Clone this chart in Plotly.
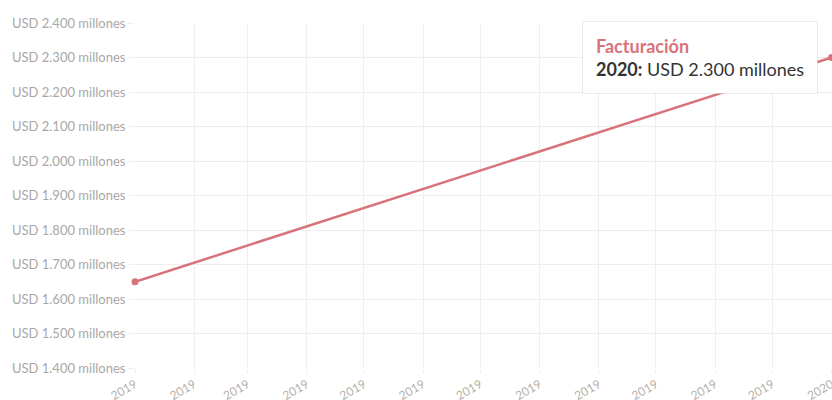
import plotly.graph_objects as go

# Data
dates = ["2019-01-01", "2020-01-01"]
values = [1650, 2300]
series_name = "Facturación"
y_ticks = [1400, 1500, 1600, 1700, 1800, 1900, 2000, 2100, 2200, 2300, 2400]
y_labels = ["USD 1.400 millones", "USD 1.500 millones", "USD 1.600 millones",
            "USD 1.700 millones", "USD 1.800 millones", "USD 1.900 millones",
            "USD 2.000 millones", "USD 2.100 millones", "USD 2.200 millones",
            "USD 2.300 millones", "USD 2.400 millones"]

line_color = "#d8737a"
font_family = "Lato, 'Source Sans Pro', sans-serif"

fig = go.Figure()
fig.add_trace(go.Scatter(
    x=dates, y=values, name=series_name, mode="lines+markers",
    line=dict(color=line_color, width=2.5),
    marker=dict(color=line_color, size=7),
    hoverinfo="skip", cliponaxis=False,
))

# Tooltip-like annotation on last point
last_year = dates[-1][:4]
last_val = f"{values[-1]:,}".replace(",", ".")
fig.add_annotation(
    x=dates[-1], y=values[-1], xref="x", yref="y",
    text=(f"<b><span style='color:{line_color}'>{series_name}</span></b><br>"
          f"<b>{last_year}:</b> USD {last_val} millones"),
    showarrow=False, xanchor="right", yanchor="middle", xshift=-14,
    align="left", bgcolor="white", bordercolor="rgba(0,0,0,0.08)",
    borderwidth=1, borderpad=13,
    font=dict(family=font_family, size=18, color="#333"),
)

fig.update_layout(
    width=832, height=400,
    margin=dict(l=135, r=0, t=23, b=32),
    paper_bgcolor="white", plot_bgcolor="white",
    showlegend=False,
    font=dict(family=font_family),
    hovermode=False,
)
fig.update_xaxes(
    type="date", range=[dates[0], dates[-1] + " 06:00"], automargin=False,
    dtick="M1", tick0=dates[0], tickformat="%Y", tickangle=-30,
    ticklabeloverflow="allow",
    showgrid=True, gridcolor="#eeeeee", gridwidth=1,
    ticks="outside", ticklen=4, tickcolor="#eeeeee",
    tickfont=dict(size=12, color="#b5b0ac", family=font_family),
    showline=False, zeroline=False,
)
fig.update_yaxes(
    range=[1400, 2400], tickvals=y_ticks, ticktext=y_labels, automargin=False,
    showgrid=True, gridcolor="#eeeeee", gridwidth=1,
    ticks="outside", ticklen=6, tickcolor="#eeeeee",
    tickfont=dict(size=13, color="#a8a8a8", family=font_family),
    showline=False, zeroline=False,
)

fig.write_html(
    "out.html",
    config={"displayModeBar": False},
    post_script="document.body.style.margin='0';document.body.style.overflow='hidden';",
)
